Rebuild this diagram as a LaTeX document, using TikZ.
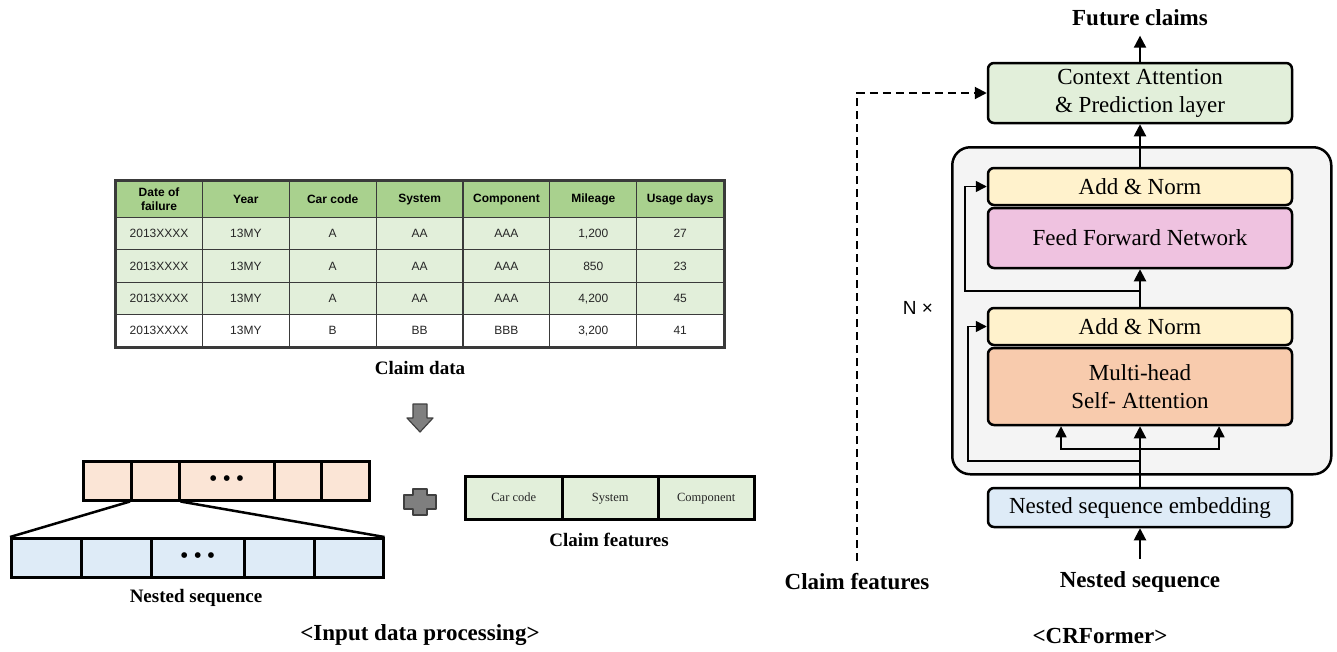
\documentclass[tikz,border=0pt]{standalone}
\usepackage{fontspec}
\setmainfont{Liberation Serif}
\newfontfamily\tabfont{Liberation Sans}
\usetikzlibrary{arrows.meta}
\definecolor{hdrgreen}{HTML}{A9D18E}
\definecolor{lightgreen}{HTML}{E2EFDA}
\definecolor{peach}{HTML}{FBE5D6}
\definecolor{lightblue}{HTML}{DEEBF7}
\definecolor{normyellow}{HTML}{FFF2CC}
\definecolor{ffpink}{HTML}{EFC2E0}
\definecolor{mhaorange}{HTML}{F8CBAD}
\definecolor{outergray}{HTML}{F4F4F4}
\definecolor{tline}{HTML}{3A3A3A}
\definecolor{symgray}{HTML}{7F7F7F}
\newcommand\tabrow[6]{%
  \foreach \tx [count=\ci from 0] in {#6} {%
    \node[tcell, fill=#4, minimum height=#3, #5] (t#1-\ci) at ({115+86.857*\ci},#2) {\tx};
  }%
}
\newcommand\seqdots{\fontsize{24}{24}\selectfont •\hspace{5pt}•\hspace{5pt}•}
\begin{document}
\begin{tikzpicture}[x=1pt,y=-1pt,
  tcell/.style={draw=tline, line width=1.2, minimum width=86.857, anchor=north west,
    inner sep=0, font=\tabfont\fontsize{12}{13.5}\selectfont, text=black!85, align=center},
  hdr/.style={font=\tabfont\bfseries\fontsize{12}{13.5}\selectfont, text=black},
  drow/.style={text height=10, text depth=1.5},
  seqcell/.style={draw=black, line width=2.5, inner sep=0, anchor=north west},
  featcell/.style={seqcell, fill=lightgreen, minimum height=43, text height=9, text depth=2,
    font=\fontsize{12.5}{14}\selectfont, text=black!85},
  blk/.style={rounded corners=6, draw=black, line width=2.5, minimum width=304,
    inner sep=0, font=\fontsize{23}{28}\selectfont, align=center},
  arr/.style={-{Triangle[length=12,width=12]}, line width=2},
  resarr/.style={-{Triangle[length=11,width=11]}, line width=1.5},
  lbl/.style={font=\bfseries\fontsize{23}{27}\selectfont},
  slbl/.style={font=\bfseries\fontsize{19}{22}\selectfont},
  symbol/.style={fill=symgray, draw=black!75, line width=1.2, line join=round}
]
\useasboundingbox (0,0) rectangle (1337,651);
\fill[white] (0,0) rectangle (1337,651);

% ---------- claim data table ----------
\tabrow{0}{180}{37}{hdrgreen}{hdr}{{Date of\\failure},Year,Car code,System,Component,Mileage,Usage days}
\tabrow{1}{217}{32.25}{lightgreen}{drow}{2013XXXX,13MY,A,AA,AAA,{1,200},27}
\tabrow{2}{249.25}{32.25}{lightgreen}{drow}{2013XXXX,13MY,A,AA,AAA,850,23}
\tabrow{3}{281.5}{32.25}{lightgreen}{drow}{2013XXXX,13MY,A,AA,AAA,{4,200},45}
\tabrow{4}{313.75}{32.25}{white}{drow}{2013XXXX,13MY,B,BB,BBB,{3,200},41}
\draw[tline, line width=3] (t0-0.north west) rectangle (t4-6.south east);
\node[slbl] (claimdata) at (420,368) {Claim data};

% down arrow
\draw[symbol] (413,404) -- (427,404) -- (427,418) -- (433,418) -- (420,432)
  -- (407,418) -- (413,418) -- cycle;

% ---------- sequences ----------
\foreach \xa/\xb/\tx [count=\i] in {82/130/{},130/178/{},178/273/{\seqdots},273/320/{},320/368/{}}
  \node[seqcell, fill=peach, minimum width={\xb-\xa}, minimum height=39] (o\i) at (\xa,460) {\tx};
\foreach \xa/\xb/\tx [count=\i] in {10/80/{},80/150/{},150/243/{\seqdots},243/313/{},313/382/{}}
  \node[seqcell, fill=lightblue, minimum width={\xb-\xa}, minimum height=39] (n\i) at (\xa,537) {\tx};
\draw[line width=2.5] (o2.south west) -- (n1.north west);
\draw[line width=2.5] (o2.south east) -- (n5.north east);
\node[slbl] (nestedL) at (196,598) {Nested sequence};

% plus sign
\draw[symbol] (413,489) -- (427,489) -- (427,495) -- (436,495) -- (436,509)
  -- (427,509) -- (427,515) -- (413,515) -- (413,509) -- (404,509)
  -- (404,495) -- (413,495) -- cycle;

% claim features
\node[featcell, minimum width=97] (f1) at (464,475) {Car code};
\node[featcell, minimum width=96] (f2) at (561,475) {System};
\node[featcell, minimum width=96] (f3) at (657,475) {Component};
\node[slbl] (cfL) at (609,540) {Claim features};

\node[lbl] (inproc) at (420,635) {<Input data processing>};

% ---------- CRFormer ----------
\node[draw=black, line width=2.5, rounded corners=18, fill=outergray,
  minimum width=379, minimum height=327, anchor=north west, inner sep=0] (outer) at (951,146) {};

\node[blk, fill=lightgreen, minimum height=60] (ctx) at (1140,93) {Context Attention\\\& Prediction layer};
\node[blk, fill=normyellow, minimum height=37] (an1) at (1140,186.5) {Add \& Norm};
\node[blk, fill=ffpink, minimum height=60] (ff) at (1140,238) {Feed Forward Network};
\node[blk, fill=normyellow, minimum height=37] (an2) at (1140,326.5) {Add \& Norm};
\node[blk, fill=mhaorange, minimum height=77] (mha) at (1140,386.5) {Multi-head\\Self- Attention};
\node[blk, fill=lightblue, minimum height=39] (emb) at (1140,507.5) {Nested sequence embedding};

\node[lbl] (future) at (1140,18) {Future claims};
\node[lbl] (nestedR) at (1140,582) {Nested sequence};
\node[lbl] (cfR) at (857,582) {Claim features};
\node[lbl] (crf) at (1100,636) {<CRFormer>};
\node[font=\tabfont\fontsize{19}{22}\selectfont] (nx) at (918,308) {N ×};

\draw[arr, shorten >=6] (ctx.north) -- (future.south);
\draw[arr] (an1.north) -- (ctx.south);
\draw[arr] (an2.north) -- (ff.south);
\draw[arr] (emb.north) -- (mha.south);
\draw[arr, shorten <=9] (nestedR.north) -- (emb.south);

\coordinate (r1) at (1140,291);
\draw[resarr] (r1) -- ++(-175,0) |- (an1.west);
\coordinate (r2) at (1140,461);
\draw[resarr] (r2) -- ++(-172,0) |- (an2.west);

\coordinate (br) at (1140,449);
\draw[resarr] (br) -| ([xshift=-79]mha.south);
\draw[resarr] (br) -| ([xshift=79]mha.south);

\draw[arr, dash pattern=on 8pt off 5pt, shorten <=9] (cfR.north) |- (ctx.west);
\end{tikzpicture}
\end{document}
